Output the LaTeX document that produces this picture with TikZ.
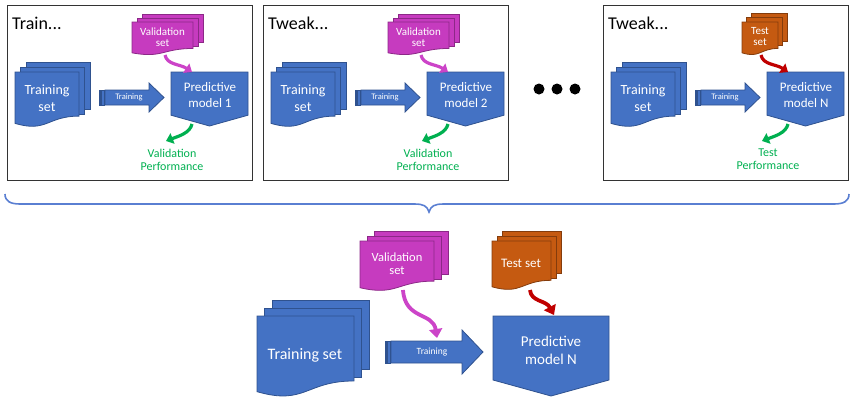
\documentclass[tikz,border=0pt]{standalone}
\usepackage{fontspec}
\setmainfont{Carlito}
\usetikzlibrary{arrows.meta}
\definecolor{docblue}{HTML}{4472C4}
\definecolor{docblueedge}{HTML}{2F528F}
\definecolor{valmag}{HTML}{C63BBF}
\definecolor{valmagedge}{HTML}{8C2887}
\definecolor{testor}{HTML}{C55A11}
\definecolor{testoredge}{HTML}{843C0C}
\definecolor{perfgreen}{HTML}{00B050}
\definecolor{arrmag}{HTML}{CC44C8}
\definecolor{arrred}{HTML}{C00000}
\definecolor{bracecol}{HTML}{5A7FD2}
\tikzset{
  bluedoc/.style={fill=docblue, draw=docblueedge, line width=0.8pt},
  magdoc/.style={fill=valmag, draw=valmagedge, line width=0.8pt},
  ordoc/.style={fill=testor, draw=testoredge, line width=0.8pt},
  txt/.style={text=white, align=center, inner sep=0pt},
  frame/.style={draw=black!80, line width=1pt},
  titletxt/.style={text=black, inner sep=0pt, font=\fontsize{18}{21}\selectfont},
  perf/.style={text=perfgreen, align=center, inner sep=0pt, font=\fontsize{12}{13}\selectfont},
  magarrow/.style={draw=arrmag, line width=3.2pt, -{Triangle[length=7pt,width=11pt]}},
  redarrow/.style={draw=arrred, line width=3.2pt, -{Triangle[length=7pt,width=11pt]}},
  greenarrow/.style={draw=perfgreen, line width=3.2pt, -{Triangle[length=7pt,width=11pt]}},
  bigmagarrow/.style={draw=arrmag, line width=3.8pt, -{Triangle[length=9pt,width=13pt]}},
  bigredarrow/.style={draw=arrred, line width=3.8pt, -{Triangle[length=9pt,width=13pt]}},
  dotnode/.style={circle, fill=black, inner sep=0pt, minimum size=11pt},
  brace/.style={draw=bracecol, line width=1.6pt},
}
% multi-document: x y w h dx dy style
\newcommand{\mdoc}[7]{%
  \draw[#7] ({#1+2*#5},{#2-2*#6}) rectangle ({#1+#3+2*#5},{#2-2*#6+0.86*#4});
  \draw[#7] ({#1+#5},{#2-#6}) rectangle ({#1+#3+#5},{#2-#6+0.86*#4});
  \draw[#7] (#1,#2) -- ({#1+#3},#2) -- ({#1+#3},{#2+0.802*#4})
     .. controls ({#1+0.5*#3},{#2+0.802*#4}) and ({#1+0.5*#3},{#2+1.107*#4}) .. (#1,{#2+0.934*#4}) -- cycle;
}
% off-page model shape: x y w h style
\newcommand{\pmodel}[5]{%
  \draw[#5] (#1,#2) -- ({#1+#3},#2) -- ({#1+#3},{#2+0.8*#4}) -- ({#1+0.5*#3},{#2+#4}) -- (#1,{#2+0.8*#4}) -- cycle;
}
% striped arrow: x0 xtip yc shafthalf headhalf headlen style
\newcommand{\sarrow}[7]{%
  \draw[#7] (#1,{#3-#4}) rectangle ({#1+1.5},{#3+#4});
  \draw[#7] ({#1+2.5},{#3-#4}) rectangle ({#1+5},{#3+#4});
  \draw[#7] ({#1+6},{#3-#4}) -- ({#2-#6},{#3-#4}) -- ({#2-#6},{#3-#5}) -- (#2,#3)
     -- ({#2-#6},{#3+#5}) -- ({#2-#6},{#3+#4}) -- ({#1+6},{#3+#4}) -- cycle;
}
% common panel content: prefix, title, model text, perf first line
\newcommand{\panelbase}[4]{%
  \draw[frame] (7,5) rectangle (252,180);
  \node[titletxt, anchor=west] (#1title) at (12,23) {#2};
  \mdoc{15}{72}{64}{55}{5.5}{5}{bluedoc}
  \node[txt, font=\fontsize{14}{17}\selectfont] (#1train) at (47,98.5) {Training\\set};
  \sarrow{99}{164}{97.5}{7.5}{14.5}{15}{bluedoc}
  \node[txt, font=\fontsize{8.5}{9}\selectfont] (#1arrowlbl) at (129,97.5) {Training};
  \pmodel{171}{72}{77}{54}{bluedoc}
  \node[txt, font=\fontsize{13}{16}\selectfont] (#1model) at (210,95) {Predictive\\model #3};
  \coordinate (#1gs) at (192,124);
  \coordinate (#1ge) at (166,141);
  \draw[greenarrow] (#1gs) .. controls (190,133) and (179,136) .. (#1ge);
  \node[perf] (#1perf) at (172,159.5) {#4\\Performance};
}
\begin{document}
\begin{tikzpicture}[x=1pt,y=-1pt]
\useasboundingbox (0,0) rectangle (851,397);

% ---------- panel 1 ----------
\begin{scope}
  \panelbase{pa}{Train...}{1}{Validation}
  \mdoc{132}{22}{61}{33}{5}{4}{magdoc}
  \node[txt, font=\fontsize{11}{11}\selectfont] (paval) at (162.5,37) {Validation\\set};
  \coordinate (pams) at (165,55);
  \coordinate (pame) at (192,72);
  \draw[magarrow] (pams) .. controls (167,65) and (180,64) .. (pame);
\end{scope}

% ---------- panel 2 ----------
\begin{scope}[shift={(256,0)}]
  \panelbase{pb}{Tweak...}{2}{Validation}
  \mdoc{132}{22}{61}{33}{5}{4}{magdoc}
  \node[txt, font=\fontsize{11}{11}\selectfont] (pbval) at (162.5,37) {Validation\\set};
  \coordinate (pbms) at (165,55);
  \coordinate (pbme) at (192,72);
  \draw[magarrow] (pbms) .. controls (167,65) and (180,64) .. (pbme);
\end{scope}

% ---------- dots ----------
\node[dotnode] (dot1) at (539,89) {};
\node[dotnode] (dot2) at (557,89) {};
\node[dotnode] (dot3) at (575,89) {};

% ---------- panel 3 ----------
\begin{scope}[shift={(596,0)}]
  \panelbase{pc}{Tweak...}{N}{Test}
  \mdoc{146}{22}{36}{33}{4.5}{4.5}{ordoc}
  \node[txt, font=\fontsize{11}{11}\selectfont] (pctest) at (164,36.5) {Test\\set};
  \coordinate (pcrs) at (165,55);
  \coordinate (pcre) at (192,72);
  \draw[redarrow] (pcrs) .. controls (167,65) and (180,64) .. (pcre);
\end{scope}

% ---------- brace ----------
\draw[brace] (5,194) .. controls (5,201) and (10,204) .. (20,204) -- (414,204)
  .. controls (424,204) and (427,206) .. (429,212)
  .. controls (431,206) and (434,204) .. (444,204) -- (834,204)
  .. controls (844,204) and (849,201) .. (849,194);

% ---------- bottom ----------
\mdoc{257}{316}{97}{81}{7.5}{8}{bluedoc}
\node[txt, font=\fontsize{16}{18}\selectfont] (btrain) at (305,355) {Training set};
\sarrow{385}{483}{352}{11}{22}{21}{bluedoc}
\node[txt, font=\fontsize{9.5}{10}\selectfont] (barrowlbl) at (432,352) {Training};
\pmodel{493}{316}{116}{80}{bluedoc}
\node[txt, font=\fontsize{15}{18}\selectfont] (bmodel) at (551,350) {Predictive\\model N};
\mdoc{360}{241}{74}{50}{7}{5}{magdoc}
\node[txt, font=\fontsize{12.5}{13}\selectfont] (bval) at (397,263.5) {Validation\\set};
\mdoc{492}{241}{59}{49}{5}{5}{ordoc}
\node[txt, font=\fontsize{13}{14}\selectfont] (btest) at (521,263) {Test set};
\coordinate (bms) at (403,290);
\coordinate (bme) at (437,338);
\draw[bigmagarrow] (bms) .. controls (405,320) and (433,312) .. (bme);
\coordinate (brs) at (530,290);
\coordinate (bre) at (554,315);
\draw[bigredarrow] (brs) .. controls (531,302) and (546,300) .. (bre);
\end{tikzpicture}
\end{document}
